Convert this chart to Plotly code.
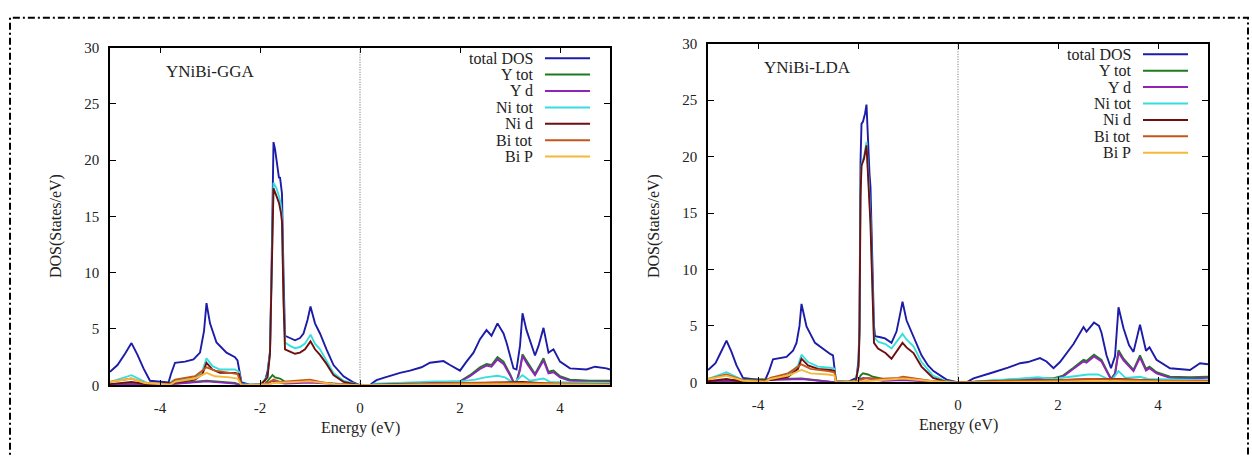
import plotly.graph_objects as go

# ---------------- data : YNiBi-GGA ----------------
gga_total_E = [-5.0,-4.85,-4.7,-4.57,-4.45,-4.33,-4.2,-4.0,-3.83,-3.78,-3.7,-3.5,-3.33,-3.2,-3.12,-3.07,-3.0,-2.87,-2.67,-2.5,-2.45,-2.37,-2.2,-2.0,-1.9,-1.85,-1.8,-1.77,-1.73,-1.7,-1.67,-1.64,-1.62,-1.6,-1.58,-1.56,-1.53,-1.5,-1.4,-1.3,-1.2,-1.13,-1.05,-0.99,-0.9,-0.8,-0.67,-0.53,-0.33,-0.15,0.0,0.2,0.25,0.33,0.47,0.8,1.0,1.23,1.4,1.67,1.8,2.0,2.13,2.27,2.4,2.53,2.63,2.75,2.87,2.93,3.07,3.13,3.2,3.25,3.33,3.5,3.57,3.67,3.77,3.87,4.0,4.2,4.53,4.7,4.93,5.0]
gga_total   = [1.2,1.8,2.8,3.75,2.7,1.5,0.4,0.3,0.25,1.0,2.0,2.1,2.3,2.9,4.8,7.3,5.5,3.8,2.9,2.5,2.2,0.25,0.05,0.1,0.4,1.2,3.0,10.0,21.6,21.0,20.1,19.2,18.4,18.5,17.8,17.0,10.0,4.4,4.2,4.0,4.2,4.6,5.8,7.0,5.5,4.6,3.2,1.8,0.8,0.3,0.0,0.0,0.2,0.45,0.65,1.1,1.3,1.6,2.0,2.15,1.8,1.3,2.1,2.9,4.1,4.9,4.4,5.5,4.6,3.8,1.5,1.4,3.5,6.4,4.9,2.65,3.5,5.1,2.9,3.2,2.1,1.5,1.4,1.65,1.5,1.4]

gga_ytot_E = [-5.0,-4.57,-4.0,-3.07,-2.5,-2.37,-1.9,-1.8,-1.75,-1.7,-1.6,-1.5,-1.0,-0.5,0.0,0.2,0.4,1.0,1.5,1.8,2.0,2.2,2.4,2.53,2.63,2.75,2.87,3.0,3.07,3.13,3.2,3.25,3.35,3.5,3.67,3.77,3.87,4.0,4.2,4.6,5.0]
gga_ytot   = [0.05,0.2,0.05,0.4,0.2,0.0,0.1,0.7,0.9,0.7,0.6,0.3,0.3,0.15,0.0,0.0,0.1,0.2,0.3,0.3,0.35,0.9,1.6,1.9,1.8,2.5,2.1,1.0,0.3,0.3,1.5,2.75,2.0,1.0,2.4,1.2,1.3,0.8,0.5,0.4,0.4]

gga_yd_E = [-5.0,-4.57,-4.0,-3.07,-2.5,-2.37,-1.9,-1.8,-1.75,-1.7,-1.5,-1.0,-0.5,0.0,0.2,0.4,1.0,1.5,1.8,2.0,2.2,2.4,2.53,2.63,2.75,2.87,3.0,3.07,3.13,3.2,3.25,3.35,3.5,3.67,3.77,3.87,4.0,4.2,4.6,5.0]
gga_yd   = [0.02,0.1,0.02,0.35,0.15,0.0,0.05,0.3,0.4,0.3,0.15,0.25,0.1,0.0,0.0,0.05,0.15,0.25,0.25,0.3,0.8,1.45,1.75,1.65,2.3,1.9,0.9,0.25,0.25,1.35,2.6,1.85,0.9,2.2,1.05,1.15,0.7,0.4,0.3,0.3]

gga_nitot_E = [-5.0,-4.57,-4.3,-4.2,-3.83,-3.75,-3.3,-3.15,-3.07,-2.95,-2.8,-2.5,-2.42,-2.37,-2.0,-1.85,-1.8,-1.77,-1.73,-1.67,-1.62,-1.58,-1.56,-1.53,-1.5,-1.4,-1.3,-1.2,-1.1,-0.99,-0.9,-0.8,-0.67,-0.53,-0.33,-0.1,0.0,0.2,0.3,1.0,1.5,2.0,2.3,2.5,2.75,2.9,3.07,3.25,3.4,3.67,3.8,4.2,5.0]
gga_nitot   = [0.3,0.9,0.3,0.1,0.05,0.4,0.6,1.3,2.4,1.7,1.4,1.4,1.2,0.1,0.02,0.8,3.0,9.0,18.0,17.5,16.8,16.0,15.0,8.0,3.8,3.5,3.3,3.4,3.7,4.5,3.7,3.2,2.2,1.1,0.4,0.1,0.0,0.0,0.15,0.25,0.35,0.35,0.5,0.7,0.85,0.7,0.2,0.9,0.4,0.6,0.3,0.25,0.2]

gga_nid_E = [-5.0,-4.57,-4.2,-3.75,-3.3,-3.15,-3.07,-2.95,-2.8,-2.5,-2.42,-2.37,-2.0,-1.85,-1.8,-1.77,-1.73,-1.67,-1.62,-1.58,-1.56,-1.53,-1.5,-1.4,-1.3,-1.2,-1.1,-0.99,-0.9,-0.8,-0.67,-0.53,-0.33,0.0,0.3,1.0,2.0,2.75,3.25,4.0,5.0]
gga_nid   = [0.1,0.3,0.05,0.2,0.5,1.0,2.0,1.4,1.1,1.1,1.0,0.05,0.0,0.7,2.8,8.5,17.5,16.8,16.2,15.3,14.5,7.5,3.2,3.0,2.8,2.9,3.2,3.9,3.2,2.7,1.9,0.9,0.3,0.0,0.05,0.15,0.15,0.25,0.3,0.1,0.1]

gga_bitot_E = [-5.0,-4.57,-4.3,-4.0,-3.8,-3.7,-3.3,-3.07,-2.9,-2.6,-2.45,-2.37,-2.0,-1.8,-1.73,-1.6,-1.2,-1.0,-0.8,-0.5,0.0,0.3,1.0,2.0,2.7,3.25,4.0,5.0]
gga_bitot   = [0.3,0.6,0.2,0.1,0.1,0.5,0.8,1.6,1.3,1.1,1.0,0.05,0.0,0.3,0.5,0.3,0.4,0.5,0.3,0.1,0.0,0.05,0.1,0.2,0.25,0.2,0.15,0.1]

gga_bip_E = [-5.0,-4.57,-4.3,-3.8,-3.7,-3.3,-3.07,-2.9,-2.6,-2.45,-2.37,-1.8,-1.73,-1.0,-0.5,0.0,1.0,2.7,5.0]
gga_bip   = [0.3,0.6,0.2,0.05,0.3,0.6,1.1,0.8,0.7,0.6,0.0,0.1,0.2,0.35,0.1,0.0,0.05,0.1,0.05]

# ---------------- data : YNiBi-LDA ----------------
lda_total_E = [-5.0,-4.85,-4.75,-4.63,-4.53,-4.43,-4.3,-4.0,-3.86,-3.78,-3.7,-3.43,-3.3,-3.23,-3.17,-3.13,-3.03,-2.86,-2.63,-2.55,-2.5,-2.44,-2.2,-2.03,-1.99,-1.97,-1.95,-1.93,-1.9,-1.86,-1.83,-1.81,-1.79,-1.77,-1.75,-1.74,-1.72,-1.68,-1.66,-1.55,-1.46,-1.33,-1.23,-1.16,-1.11,-1.03,-0.89,-0.73,-0.6,-0.49,-0.23,0.0,0.17,0.31,0.71,1.0,1.24,1.4,1.64,1.77,1.91,2.04,2.31,2.51,2.57,2.72,2.82,2.87,2.97,3.06,3.14,3.21,3.31,3.42,3.51,3.64,3.76,3.83,3.97,4.24,4.64,4.84,5.0]
lda_total   = [1.1,1.7,2.6,3.7,2.7,1.5,0.4,0.25,0.17,1.0,2.05,2.25,2.8,3.5,5.0,6.95,4.95,3.5,2.7,2.5,2.4,0.1,0.05,0.4,2.0,5.2,19.5,22.9,23.1,23.8,24.6,22.0,20.5,18.5,17.3,15.0,12.0,5.0,4.1,4.0,3.9,3.5,4.5,6.0,7.15,5.5,4.1,2.4,1.5,1.0,0.25,0.0,0.0,0.35,0.9,1.3,1.7,1.8,2.15,1.85,1.25,1.8,3.4,4.9,4.5,5.3,5.0,4.4,2.4,1.25,2.3,6.65,4.8,3.3,2.7,5.1,2.8,3.1,2.0,1.25,1.1,1.7,1.6]

lda_ytot_E = [-5.0,-4.63,-3.13,-2.44,-2.0,-1.95,-1.9,-1.8,-1.7,-1.5,-1.1,-0.5,0.0,0.2,0.5,1.0,1.64,1.9,2.1,2.31,2.51,2.57,2.72,2.87,2.97,3.06,3.14,3.21,3.31,3.51,3.64,3.76,3.83,3.97,4.24,4.64,5.0]
lda_ytot   = [0.05,0.2,0.35,0.0,0.1,0.6,0.8,0.7,0.5,0.3,0.3,0.1,0.0,0.0,0.1,0.25,0.4,0.35,0.6,1.3,2.0,1.9,2.45,2.0,1.1,0.3,0.8,2.85,2.1,1.1,2.4,1.2,1.4,0.9,0.5,0.45,0.5]

lda_yd_E = [-5.0,-4.63,-3.13,-2.44,-2.0,-1.95,-1.9,-1.8,-1.7,-1.5,-1.1,-0.5,0.0,0.2,0.5,1.0,1.64,1.9,2.1,2.31,2.51,2.57,2.72,2.87,2.97,3.06,3.14,3.21,3.31,3.51,3.64,3.76,3.83,3.97,4.24,4.64,5.0]
lda_yd   = [0.02,0.1,0.3,0.0,0.05,0.3,0.4,0.35,0.25,0.15,0.2,0.05,0.0,0.0,0.05,0.2,0.3,0.25,0.5,1.2,1.85,1.75,2.3,1.85,1.0,0.25,0.7,2.65,1.95,1.0,2.2,1.05,1.25,0.8,0.4,0.35,0.4]

lda_nitot_E = [-5.0,-4.63,-4.3,-3.86,-3.75,-3.4,-3.2,-3.13,-3.0,-2.8,-2.55,-2.47,-2.44,-2.05,-1.99,-1.97,-1.95,-1.93,-1.88,-1.83,-1.79,-1.75,-1.72,-1.68,-1.6,-1.45,-1.33,-1.23,-1.11,-1.03,-0.89,-0.73,-0.5,-0.23,0.0,0.2,0.4,1.0,1.6,1.9,2.3,2.6,2.8,3.0,3.06,3.21,3.35,3.64,3.8,4.2,5.0]
lda_nitot   = [0.3,0.9,0.2,0.05,0.4,0.6,1.5,2.45,1.8,1.4,1.3,1.2,0.05,0.05,1.5,4.5,17.0,19.3,20.0,21.3,18.0,14.5,10.0,4.0,3.6,3.4,3.0,3.6,4.3,3.8,3.2,1.8,0.6,0.1,0.0,0.0,0.1,0.25,0.45,0.3,0.55,0.7,0.7,0.3,0.1,1.0,0.4,0.5,0.3,0.25,0.2]

lda_nid_E = [-5.0,-4.63,-4.3,-3.75,-3.4,-3.2,-3.13,-3.0,-2.8,-2.55,-2.47,-2.44,-2.05,-1.99,-1.97,-1.95,-1.93,-1.88,-1.83,-1.79,-1.75,-1.72,-1.68,-1.6,-1.45,-1.33,-1.23,-1.11,-1.03,-0.89,-0.73,-0.5,-0.23,0.0,0.4,1.0,2.0,2.7,3.21,4.0,5.0]
lda_nid   = [0.1,0.3,0.05,0.2,0.5,1.2,2.1,1.5,1.2,1.1,1.0,0.0,0.0,1.4,4.2,16.5,19.2,19.8,21.0,17.6,14.0,9.5,3.5,3.0,2.6,2.1,2.7,3.5,3.1,2.6,1.4,0.4,0.05,0.0,0.05,0.15,0.2,0.3,0.3,0.15,0.1]

lda_bitot_E = [-5.0,-4.63,-4.3,-3.86,-3.75,-3.4,-3.13,-2.95,-2.6,-2.47,-2.44,-2.0,-1.9,-1.8,-1.6,-1.2,-1.1,-0.8,-0.5,0.0,0.3,1.0,2.0,2.7,3.2,4.0,5.0]
lda_bitot   = [0.3,0.7,0.2,0.1,0.4,0.8,1.6,1.2,1.0,0.9,0.05,0.05,0.3,0.4,0.3,0.4,0.5,0.3,0.1,0.0,0.05,0.15,0.2,0.3,0.25,0.15,0.1]

lda_bip_E = [-5.0,-4.63,-4.3,-3.86,-3.75,-3.4,-3.13,-2.95,-2.6,-2.47,-2.44,-1.9,-1.1,-0.5,0.0,1.0,2.7,5.0]
lda_bip   = [0.3,0.6,0.15,0.05,0.3,0.6,1.1,0.8,0.7,0.6,0.0,0.1,0.35,0.1,0.0,0.05,0.1,0.05]

series_names  = ["total DOS", "Y tot", "Y d", "Ni tot", "Ni d", "Bi tot", "Bi P"]
series_colors = ["#1c1ca8", "#1f7a1f", "#8e24b8", "#38dede", "#6e0e0e", "#c4561a", "#f5b83a"]
panel_titles  = ["YNiBi-GGA", "YNiBi-LDA"]
x_ticks = [-4, -2, 0, 2, 4]
x_tick_text = ["-4", "-2", "0", "2", "4"]
y_ticks = [0, 5, 10, 15, 20, 25, 30]

gga = [(gga_total_E, gga_total), (gga_ytot_E, gga_ytot), (gga_yd_E, gga_yd),
       (gga_nitot_E, gga_nitot), (gga_nid_E, gga_nid), (gga_bitot_E, gga_bitot), (gga_bip_E, gga_bip)]
lda = [(lda_total_E, lda_total), (lda_ytot_E, lda_ytot), (lda_yd_E, lda_yd),
       (lda_nitot_E, lda_nitot), (lda_nid_E, lda_nid), (lda_bitot_E, lda_bitot), (lda_bip_E, lda_bip)]

W, H = 1252, 456
SERIF = "Liberation Serif, Times New Roman, serif"

fig = go.Figure()

# pixel geometry of the two panels (left, right, top, bottom)
panels = [dict(l=110, r=610, t=41, b=391, xa="x", ya="y"),
          dict(l=708, r=1208, t=37, b=388, xa="x2", ya="y2")]

for p, data in zip(panels, [gga, lda]):
    for (E, v), c in zip(data, series_colors):
        fig.add_trace(go.Scatter(x=E, y=v, mode="lines", line=dict(color=c, width=1.9),
                                 xaxis=p["xa"], yaxis=p["ya"], showlegend=False, hoverinfo="skip"))

def px(x): return x / W
def py(y): return 1 - y / H

axis_common = dict(showline=True, linecolor="black", linewidth=1.5, mirror="allticks",
                   ticks="inside", ticklen=6, tickwidth=1, tickcolor="black",
                   showgrid=False, zeroline=False,
                   tickfont=dict(family=SERIF, size=15, color="#222"))

layout = dict(width=W, height=H, margin=dict(l=0, r=0, t=0, b=0),
              paper_bgcolor="white", plot_bgcolor="white", showlegend=False)

annotations = []
shapes = []
for i, p in enumerate(panels):
    sfx = "" if i == 0 else "2"
    layout["xaxis" + sfx] = dict(axis_common, domain=[px(p["l"]), px(p["r"])], range=[-5, 5],
                                 tickvals=x_ticks, ticktext=x_tick_text, anchor="y" + sfx,
                                 ticklabelstandoff=8)
    layout["yaxis" + sfx] = dict(axis_common, domain=[py(p["b"]), py(p["t"])], range=[0, 30],
                                 tickvals=y_ticks, anchor="x" + sfx, ticklabelstandoff=6)
    # dotted Fermi level
    shapes.append(dict(type="line", xref="x" + sfx, yref="y" + sfx + " domain", x0=0, x1=0, y0=0, y1=1,
                       line=dict(color="#666", width=1, dash="1px,1.5px")))
    # panel label
    annotations.append(dict(text=panel_titles[i], xref="x" + sfx + " domain", yref="y" + sfx + " domain",
                            x=0.108, y=0.93, xanchor="left", yanchor="middle",
                            showarrow=False, font=dict(family=SERIF, size=17, color="#222")))
    # axis titles
    annotations.append(dict(text="Energy (eV)", xref="paper", yref="paper",
                            x=px((p["l"] + p["r"]) / 2), y=py(435 if i == 0 else 432),
                            xanchor="center", yanchor="middle", showarrow=False,
                            font=dict(family=SERIF, size=16, color="#222")))
    annotations.append(dict(text="DOS(States/eV)", xref="paper", yref="paper",
                            x=px(p["l"] - 54), y=py(226), textangle=-90,
                            xanchor="center", yanchor="middle", showarrow=False,
                            font=dict(family=SERIF, size=16, color="#222")))
    # key (text left of sample line)
    text_r = p["r"] - 75
    top = p["t"] + 11
    for k, (nm, c) in enumerate(zip(series_names, series_colors)):
        yy = top + k * 17
        annotations.append(dict(text=nm, xref="paper", yref="paper", x=px(text_r), y=py(yy),
                                xanchor="right", yanchor="middle", showarrow=False,
                                font=dict(family=SERIF, size=16, color="#222")))
        shapes.append(dict(type="line", xref="paper", yref="paper",
                           x0=px(text_r + 10), x1=px(text_r + 55), y0=py(yy), y1=py(yy),
                           line=dict(color=c, width=2)))

# dash-dot outer frame
shapes.append(dict(type="rect", xref="paper", yref="paper", x0=px(10), x1=px(1248), y0=py(470), y1=py(10),
                   line=dict(color="black", width=2, dash="7px,3px,2px,3px"), layer="above"))

layout["annotations"] = annotations
layout["shapes"] = shapes
fig.update_layout(**layout)
fig.write_html("out.html")
